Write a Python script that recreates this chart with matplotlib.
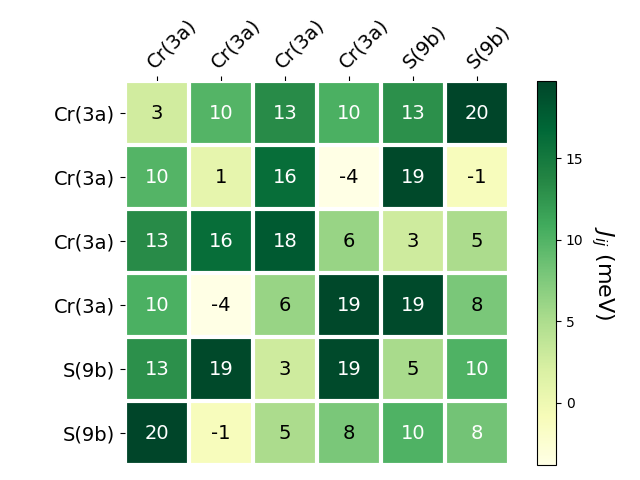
import numpy as np
import matplotlib
matplotlib.use('Agg')
import matplotlib.pyplot as plt

etiquetas = ['Cr(3a)', 'Cr(3a)', 'Cr(3a)', 'Cr(3a)', 'S(9b)', 'S(9b)']

# J_ij (meV), matriz simetrica
J = np.array([
    [2.6, 9.8, 13.2, 10.3, 12.9, 19.7],
    [9.8, 0.7, 16.1, -3.8, 19.3, -1.1],
    [13.2, 16.1, 17.8, 6.2, 2.8, 5.1],
    [10.3, -3.8, 6.2, 19.4, 19.2, 7.8],
    [12.9, 19.3, 2.8, 19.2, 5.2, 10.1],
    [19.7, -1.1, 5.1, 7.8, 10.1, 8.2],
])

fig, ax = plt.subplots(figsize=(6.4, 4.8), dpi=100)
im = ax.imshow(J, cmap='YlGn')

cbar = fig.colorbar(im, ax=ax)
cbar.ax.set_ylabel(r'$J_{ij}$ (meV)', rotation=-90, va='bottom', fontsize=16)

ax.set_xticks(np.arange(len(etiquetas)), labels=etiquetas, fontsize=14)
ax.set_yticks(np.arange(len(etiquetas)), labels=etiquetas, fontsize=14)
ax.tick_params(top=True, bottom=False, labeltop=True, labelbottom=False)
plt.setp(ax.get_xticklabels(), rotation=45, ha='left', rotation_mode='anchor')

# grade branca entre as celulas
ax.spines[:].set_visible(False)
ax.set_xticks(np.arange(J.shape[1] + 1) - .5, minor=True)
ax.set_yticks(np.arange(J.shape[0] + 1) - .5, minor=True)
ax.grid(which='minor', color='w', linestyle='-', linewidth=3)
ax.tick_params(which='minor', bottom=False, left=False, top=False)

limite = im.norm(J.max()) / 2.
for i in range(J.shape[0]):
    for j in range(J.shape[1]):
        cor = 'white' if im.norm(J[i, j]) > limite else 'black'
        ax.text(j, i, f'{J[i, j]:.0f}', ha='center', va='center', color=cor, fontsize=14)

fig.tight_layout()
plt.savefig('out.png')
